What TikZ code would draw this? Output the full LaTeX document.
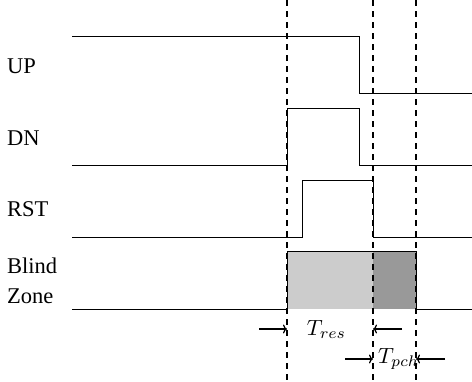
\documentclass[tikz,border=0pt]{standalone}
\usepackage{fontspec}
\setmainfont{Liberation Serif}
\usetikzlibrary{arrows.meta}
\definecolor{zoneA}{RGB}{204,204,204}
\definecolor{zoneB}{RGB}{153,153,153}
\tikzset{
  sig/.style={line width=0.9pt, line join=miter},
  guide/.style={line width=1.3pt, dash pattern=on 6pt off 5pt},
  lbl/.style={anchor=base west, inner sep=0pt, font=\fontsize{22.5}{30}\selectfont},
  mathlbl/.style={anchor=base west, inner sep=0pt},
  dim/.style={line width=1.2pt, -{To[length=4pt, width=9pt, line width=1.2pt]}},
}
\begin{document}
\begin{tikzpicture}[x=1pt, y=-1pt]
  \useasboundingbox (0,0) rectangle (472,381);

  % timing marks
  \coordinate (tA) at (287,0);
  \coordinate (tB) at (373,0);
  \coordinate (tC) at (416,0);

  % blind zone shading
  \fill[zoneA] (287,251) rectangle (373,309);
  \fill[zoneB] (373,251) rectangle (416,309);

  % signal labels
  \node[lbl] (up)  at (7,73.3)  {UP};
  \node[lbl] (dn)  at (7,145)   {DN};
  \node[lbl] (rst) at (7,216)   {RST};
  \node[lbl] (bz1) at (7,273.3) {Blind};
  \node[lbl] (bz2) at (7,303.3) {Zone};

  % waveforms
  \draw[sig] (72,36) -- (359,36) -- (359,93.7) -- (472,93.7);
  \draw[sig] (72,165) -- (287,165) -- (287,108) -- (359,108) -- (359,165) -- (472,165);
  \draw[sig] (72,237) -- (302,237) -- (302,180) -- (373,180) -- (373,237) -- (472,237);
  \draw[sig] (72,309) -- (287,309) -- (287,251) -- (416,251) -- (416,309) -- (472,309);

  % dashed time markers
  \draw[guide] (tA) -- ++(0,381);
  \draw[guide] (tB) -- ++(0,381);
  \draw[guide] (tC) -- ++(0,381);

  % interval annotations
  \coordinate (r1a) at (259,329);
  \coordinate (r1b) at (287,329);
  \coordinate (r1c) at (402,329);
  \coordinate (r1d) at (373,329);
  \coordinate (r2a) at (345,359);
  \coordinate (r2b) at (373,359);
  \coordinate (r2c) at (445,359);
  \coordinate (r2d) at (416,359);
  \draw[dim] (r1a) -- (r1b);
  \draw[dim] (r1c) -- (r1d);
  \draw[dim] (r2a) -- (r2b);
  \draw[dim] (r2c) -- (r2d);
  \node[mathlbl] (tres) at (306.7,335) {\scalebox{2.2}{$T_{res}$}};
  \node[mathlbl] (tpch) at (378,363)   {\scalebox{2.2}{$T_{pch}$}};
\end{tikzpicture}
\end{document}
